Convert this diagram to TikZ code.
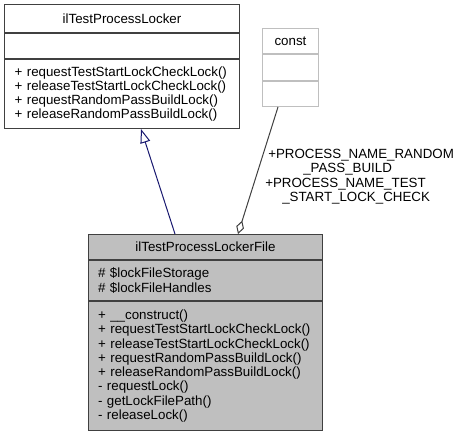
\documentclass[tikz,border=0pt]{standalone}
\usepackage{fontspec}
\setmainfont{Liberation Sans}
\usetikzlibrary{arrows.meta,calc}
\definecolor{edgegray}{HTML}{404040}
\definecolor{greyback}{HTML}{BFBFBF}
\definecolor{inhblue}{HTML}{191970}
\newlength\opswidth
\newcommand\umlfont{\fontsize{10pt}{10.7pt}\selectfont\hyphenpenalty 10000\relax\exhyphenpenalty 10000\relax}
\AtBeginDocument{\settowidth\opswidth{\fontsize{10pt}{10.7pt}\selectfont + releaseTestStartLockCheckLock()}\addtolength\opswidth{3pt}}
\begin{document}
\begin{tikzpicture}[x=0.75pt,y=-0.75pt,
  every node/.style={font=\umlfont, text=black},
  comp/.style={draw=edgegray, line width=0.75pt, inner sep=0pt, anchor=north west, align=left},
  ghost/.style={comp, draw=greyback},
  filled/.style={comp, fill=greyback},
  inherit/.style={inhblue, line width=0.75pt, -{Triangle[open, length=10.5pt, width=7.5pt]}},
  aggreg/.style={edgegray, line width=0.75pt, {Diamond[open, length=10.5pt, width=6pt]}-},
  lbl/.style={inner sep=0pt, anchor=north west, align=left}]
\useasboundingbox (0,0) rectangle (459,433);
\fill[white] (0,0) rectangle (459,433);
% base class
\node[comp, minimum width=176.25pt, minimum height=21pt, align=center] (lockTitle) at (4,4) {ilTestProcessLocker};
\node[comp, minimum width=176.25pt, minimum height=18.75pt] (lockAttr) at (lockTitle.south west) {};
\node[comp, minimum width=176.25pt, minimum height=51.75pt, text width=\opswidth] (lockOps) at (lockAttr.south west)
  {+ requestTestStartLockCheckLock()\\+ releaseTestStartLockCheckLock()\\+ requestRandomPassBuildLock()\\+ releaseRandomPassBuildLock()};
% const
\node[ghost, minimum width=42pt, minimum height=18.75pt, align=center] (constTitle) at (262,28) {const};
\node[ghost, minimum width=42pt, minimum height=19.5pt] (constAttr) at (constTitle.south west) {};
\node[ghost, minimum width=42pt, minimum height=18.75pt] (constOps) at (constAttr.south west) {};
% derived class
\node[filled, minimum width=175.5pt, minimum height=18.75pt, align=center] (fileTitle) at (88,234) {ilTestProcessLockerFile};
\node[filled, minimum width=175.5pt, minimum height=30pt, text width=\opswidth] (fileAttr) at (fileTitle.south west)
  {\# \$lockFileStorage\\\# \$lockFileHandles};
\node[filled, minimum width=175.5pt, minimum height=96.75pt, text width=\opswidth] (fileOps) at (fileAttr.south west)
  {+ \_\_construct()\\+ requestTestStartLockCheckLock()\\+ releaseTestStartLockCheckLock()\\+ requestRandomPassBuildLock()\\+ releaseRandomPassBuildLock()\\- requestLock()\\- getLockFilePath()\\- releaseLock()};
% connectors
\draw[inherit] ($(fileTitle.north west)+(87,0)$) -- ($(lockOps.south west)+(137,0)$);
\draw[aggreg] ($(fileTitle.north west)+(150,0)$) -- ($(constOps.south west)+(16,0)$);
\node[lbl] (aggLabel) at (265,149)
  {\hspace*{2.25pt}+PROCESS\_NAME\_RANDOM\\\hspace*{28.5pt}\_PASS\_BUILD\\+PROCESS\_NAME\_TEST\\\hspace*{12.75pt}\_START\_LOCK\_CHECK};
\end{tikzpicture}
\end{document}
